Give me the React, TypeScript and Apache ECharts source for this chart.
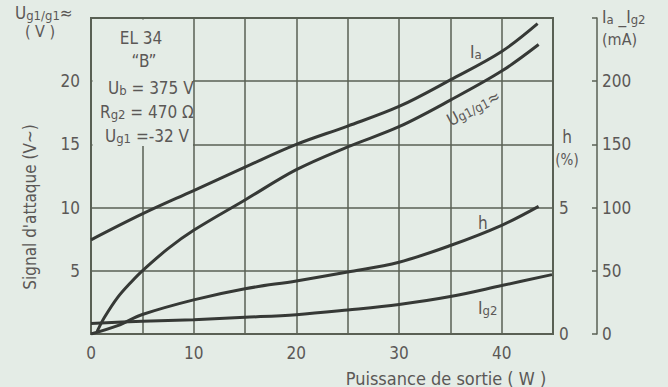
import React, { useEffect, useRef } from "react";
import * as echarts from "echarts";

// ---- Data ----
const xTicks = [0, 10, 20, 30, 40];
const leftTicks = [5, 10, 15, 20];
const hTicks = [0, 5];
const maTicks = [0, 50, 100, 150, 200];

const iaPower = [0, 5, 10, 15, 20, 25, 30, 35, 40, 43.5];
const iaMilliamps = [74.5, 95, 113.5, 132, 150, 164.5, 180, 201, 223.5, 245.5];

const ugPower = [0.6, 1.3, 2.6, 3.9, 5, 7.5, 10, 15, 20, 25, 30, 35, 40, 43.6];
const ugVolts = [0.2, 1.3, 2.9, 4.1, 5.0, 6.75, 8.2, 10.6, 13.0, 14.8, 16.4, 18.5, 20.8, 22.9];

const hPower = [0, 2.6, 5, 10, 15, 20, 25, 30, 35, 40, 43.6];
const hPercent = [0, 0.33, 0.77, 1.35, 1.79, 2.1, 2.45, 2.84, 3.5, 4.3, 5.05];

const ig2Power = [0, 5, 10, 15, 20, 25, 30, 35, 40, 44.9];
const ig2Milliamps = [8.4, 10, 11.3, 13.2, 15.3, 19, 23.3, 29.6, 38.3, 47];

const pairs = (xs: number[], ys: number[]) => xs.map((x, i) => [x, ys[i]]);

const BG = "#e4ece6";
const GRID = "#5a6054";
const INK = "#363936";
const TXT = "#5b5856";
const FONT = "'Liberation Sans Narrow', 'DejaVu Sans Condensed', 'Liberation Sans', sans-serif";

const rich = (size: number) => ({
  n: { fontSize: size, fontFamily: FONT, fill: TXT, color: TXT, lineHeight: size + 2, verticalAlign: "bottom" },
  s: { fontSize: Math.round(size * 0.75), fontFamily: FONT, fill: TXT, color: TXT, lineHeight: size + 2, verticalAlign: "bottom" },
});

function txt(x: number, y: number, text: string, size = 17, align = "left", extra: any = {}) {
  return {
    type: "text",
    x,
    y,
    z: 10,
    ...extra,
    style: {
      text,
      rich: rich(size),
      fontSize: size,
      fontFamily: FONT,
      fill: TXT,
      align,
      verticalAlign: "middle",
    },
  };
}

export default function App() {
  const ref = useRef<HTMLDivElement>(null);
  useEffect(() => {
    document.body.style.margin = "0";
    document.body.style.background = BG;
    const chart = echarts.init(ref.current!, null, { renderer: "svg" });
    const lineSeries = (name: string, data: number[][], yAxisIndex: number) => ({
      type: "line",
      name,
      data,
      yAxisIndex,
      smooth: 0.35,
      symbol: "none",
      lineStyle: { color: INK, width: 3 },
      z: 5,
    });
    chart.setOption({
      animation: false,
      backgroundColor: BG,
      grid: {
        left: 91,
        top: 18,
        width: 462,
        height: 316,
        show: true,
        borderColor: GRID,
        borderWidth: 2,
        backgroundColor: "transparent",
      },
      xAxis: {
        type: "value",
        min: 0,
        max: 45,
        interval: 5,
        axisLine: { show: true, lineStyle: { color: GRID, width: 2 } },
        axisTick: { show: false },
        splitLine: { show: true, lineStyle: { color: GRID, width: 1.5 } },
        axisLabel: {
          margin: 10,
          fontSize: 17,
          fontFamily: FONT,
          color: TXT,
          formatter: (v: number) => (xTicks.includes(v) ? String(v) : ""),
        },
      },
      yAxis: [
        {
          type: "value",
          position: "left",
          min: 0,
          max: 25,
          interval: 5,
          axisLine: { show: false },
          axisTick: { show: false },
          splitLine: { show: true, lineStyle: { color: GRID, width: 1.5 } },
          axisLabel: {
            margin: 11,
            fontSize: 17,
            fontFamily: FONT,
            color: TXT,
            formatter: (v: number) => (leftTicks.includes(v) ? String(v) : ""),
          },
        },
        {
          type: "value",
          position: "right",
          min: 0,
          max: 12.5,
          interval: 2.5,
          axisLine: { show: false },
          axisTick: { show: false },
          splitLine: { show: false },
          axisLabel: {
            margin: 6,
            fontSize: 17,
            fontFamily: FONT,
            color: TXT,
            formatter: (v: number) => (hTicks.includes(v) ? String(v) : ""),
          },
        },
        {
          type: "value",
          position: "right",
          offset: 44,
          min: 0,
          max: 250,
          interval: 50,
          axisLine: { show: true, lineStyle: { color: GRID, width: 1.5 } },
          axisTick: { show: true, inside: true, length: 5, lineStyle: { color: GRID, width: 1.5 } },
          splitLine: { show: false },
          axisLabel: {
            margin: 5,
            fontSize: 17,
            fontFamily: FONT,
            color: TXT,
            formatter: (v: number) => (maTicks.includes(v) ? String(v) : ""),
          },
        },
      ],
      series: [
        lineSeries("Ia", pairs(iaPower, iaMilliamps), 2),
        lineSeries("Ug1/g1", pairs(ugPower, ugVolts), 0),
        lineSeries("h", pairs(hPower, hPercent), 1),
        lineSeries("Ig2", pairs(ig2Power, ig2Milliamps), 2),
      ],
      graphic: [
        {
          type: "rect",
          z: 1,
          shape: { x: 92.5, y: 19.5, width: 100.5, height: 126.5 },
          style: { fill: BG },
        },
        txt(141, 38, "EL 34", 17, "center"),
        txt(144, 61, "\u201cB\u201d", 17, "center"),
        txt(108, 87, "{n|U}{s|b}{n| = 375 V}", 17),
        txt(100, 111, "{n|R}{s|g2}{n| = 470 \u03a9}", 17),
        txt(105, 135, "{n|U}{s|g1}{n| =-32 V}", 17),
        txt(15, 12, "{n|U}{s|g1/g1}{n|\u2248}", 17),
        txt(40, 31, "( V )", 16, "center"),
        txt(602, 16, "{n|I}{s|a}{n| _I}{s|g2}", 17),
        txt(602, 39, "(mA)", 16),
        txt(567, 137, "h", 17, "center"),
        txt(567, 160, "(%)", 15, "center"),
        txt(446, 378, "Puissance de sortie ( W )", 18, "center"),
        txt(30, 207, "Signal d'attaque (V~)", 17, "center", { rotation: Math.PI / 2 }),
        txt(470, 51, "{n|I}{s|a}", 17),
        txt(478, 223, "h", 17),
        txt(478, 307, "{n|I}{s|g2}", 17),
        txt(473, 107, "{n|U}{s|g1/g1}{n|\u2248}", 17, "center", { rotation: 0.48 }),
      ],
    });
    return () => chart.dispose();
  }, []);
  return <div ref={ref} style={{ width: 668, height: 387 }} />;
}
